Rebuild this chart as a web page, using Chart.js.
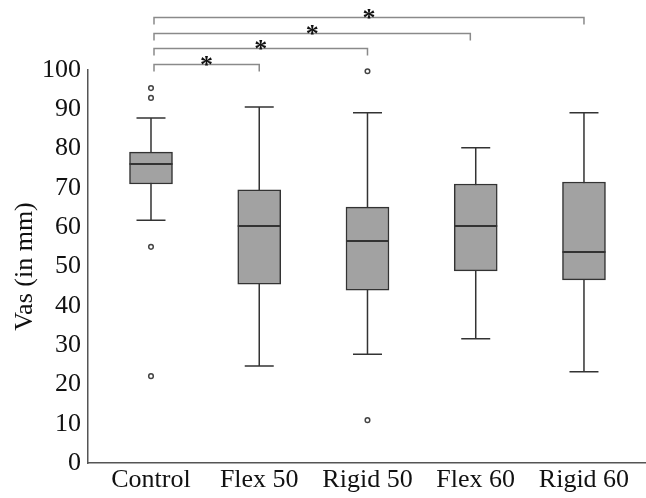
<!DOCTYPE html>
<html><head><meta charset="utf-8">
<script src="https://cdn.jsdelivr.net/npm/chart.js@4"></script>
<style>html,body{margin:0;padding:0;background:#fff;}canvas{display:block;}</style>
</head><body>
<canvas id="c" width="646" height="498"></canvas>
<script>
const categories = ['Control', 'Flex 50', 'Rigid 50', 'Flex 60', 'Rigid 60'];
const whiskerLow = [61.8, 24.7, 27.7, 31.6, 23.2];
const q1 = [71.0, 45.5, 44.0, 48.9, 46.6];
const median = [76.1, 60.3, 56.5, 60.3, 53.7];
const q3 = [79.1, 69.5, 65.1, 71.0, 71.5];
const whiskerHigh = [87.8, 90.6, 89.1, 80.2, 89.1];
const outlierCategory = [1, 1, 1, 1, 3, 3];
const outlierValues = [95.4, 92.9, 55.0, 22.1, 99.7, 10.9];
const yTicks = [0, 10, 20, 30, 40, 50, 60, 70, 80, 90, 100];
const bracketFrom = [1, 1, 1, 1];
const bracketTo = [2, 3, 3.95, 5];
const bracketLevel = [101.5, 105.6, 109.4, 113.5];
const bracketLabel = ['*', '*', '*', '*'];

const SERIF = '"Liberation Serif", "Times New Roman", serif';
const BOX_HALF = 21.5;
const CAP_HALF = 14.5;

const boxPlugin = {
  id: 'boxParts',
  beforeDatasetsDraw(chart) {
    const ctx = chart.ctx, xs = chart.scales.x, ys = chart.scales.y;
    ctx.save();
    ctx.strokeStyle = '#333';
    ctx.lineWidth = 1.5;
    categories.forEach((c, i) => {
      const x = xs.getPixelForValue(i + 1);
      const yl = ys.getPixelForValue(whiskerLow[i]);
      const yh = ys.getPixelForValue(whiskerHigh[i]);
      ctx.beginPath();
      ctx.moveTo(x, yl); ctx.lineTo(x, yh);
      ctx.moveTo(x - CAP_HALF, yl); ctx.lineTo(x + CAP_HALF, yl);
      ctx.moveTo(x - CAP_HALF, yh); ctx.lineTo(x + CAP_HALF, yh);
      ctx.stroke();
    });
    ctx.restore();
  },
  afterDatasetsDraw(chart) {
    const ctx = chart.ctx, xs = chart.scales.x, ys = chart.scales.y;
    ctx.save();
    ctx.strokeStyle = '#333';
    ctx.lineWidth = 2;
    categories.forEach((c, i) => {
      const x = xs.getPixelForValue(i + 1);
      const ym = ys.getPixelForValue(median[i]);
      ctx.beginPath();
      ctx.moveTo(x - BOX_HALF, ym); ctx.lineTo(x + BOX_HALF, ym);
      ctx.stroke();
    });
    ctx.restore();
  },
  afterDraw(chart) {
    const ctx = chart.ctx, xs = chart.scales.x, ys = chart.scales.y;
    ctx.save();
    ctx.strokeStyle = '#8a8a8a';
    ctx.lineWidth = 1.5;
    ctx.fillStyle = '#111';
    ctx.font = 'bold 26px ' + SERIF;
    ctx.textAlign = 'center';
    ctx.textBaseline = 'alphabetic';
    bracketLevel.forEach((lv, i) => {
      const x1 = xs.getPixelForValue(bracketFrom[i]) + 3;
      const x2 = xs.getPixelForValue(bracketTo[i]);
      const y = Math.round(ys.getPixelForValue(lv)) + 0.5;
      ctx.beginPath();
      ctx.moveTo(x1, y + 7); ctx.lineTo(x1, y); ctx.lineTo(x2, y); ctx.lineTo(x2, y + 7);
      ctx.stroke();
      const m = ctx.measureText(bracketLabel[i]);
      const target = y - 4;
      const base = target + (m.actualBoundingBoxAscent - m.actualBoundingBoxDescent) / 2;
      ctx.fillText(bracketLabel[i], (x1 + x2) / 2, base);
    });
    ctx.restore();
  }
};

new Chart(document.getElementById('c'), {
  type: 'bar',
  data: {
    datasets: [
      {
        label: 'IQR',
        data: categories.map((c, i) => ({ x: i + 1, y: [q1[i], q3[i]] })),
        backgroundColor: '#a2a2a2',
        borderColor: '#333',
        borderWidth: 1.5,
        borderSkipped: false,
        barThickness: 43
      },
      {
        type: 'scatter',
        label: 'Outliers',
        data: outlierValues.map((v, i) => ({ x: outlierCategory[i], y: v })),
        pointRadius: 2.3,
        pointBorderWidth: 1.5,
        borderColor: '#444',
        backgroundColor: '#fff',
        clip: false
      }
    ]
  },
  options: {
    responsive: false,
    animation: false,
    devicePixelRatio: 1,
    layout: { autoPadding: false, padding: { top: 70, right: 0, bottom: 0, left: 0 } },
    plugins: { legend: { display: false }, tooltip: { enabled: false } },
    scales: {
      x: {
        type: 'linear',
        offset: false,
        min: 0.418,
        max: 5.573,
        afterBuildTicks: s => { s.ticks = categories.map((c, i) => ({ value: i + 1 })); },
        afterFit: s => { s.height = 35; s.paddingLeft = 0; s.paddingRight = 0; },
        ticks: {
          callback: v => categories[v - 1],
          font: { family: SERIF, size: 26 },
          color: '#111',
          padding: 2,
          maxRotation: 0,
          autoSkip: false
        },
        grid: { display: false, drawTicks: false, offset: false },
        border: { display: true, color: '#555', width: 1.5 }
      },
      y: {
        min: 0,
        max: 100,
        afterBuildTicks: s => { s.ticks = yTicks.map(v => ({ value: v })); },
        afterFit: s => { s.width = 88; },
        ticks: { font: { family: SERIF, size: 26 }, color: '#111', padding: 7 },
        grid: { display: false, drawTicks: false },
        border: { display: true, color: '#555', width: 1.5 },
        title: { display: true, text: 'Vas (in mm)', font: { family: SERIF, size: 26 }, color: '#111', padding: { top: 10, bottom: 0 } }
      }
    }
  },
  plugins: [boxPlugin]
});
</script>
</body></html>
